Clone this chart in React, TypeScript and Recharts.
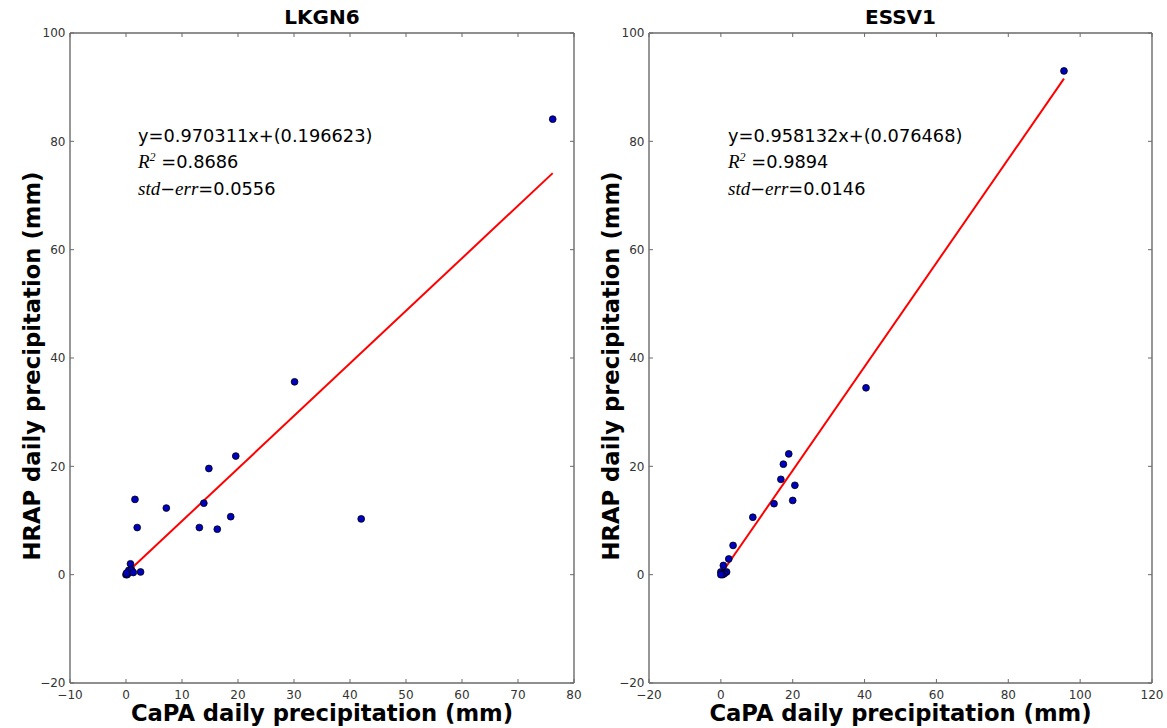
import React from 'react';
import { ScatterChart, Scatter, XAxis, YAxis, ZAxis } from 'recharts';

// ---- data ----
const lkgn6Capa = [76.2, 30.1, 42.0, 19.6, 14.8, 7.2, 1.6, 2.0, 13.9, 13.1, 16.3, 18.7, 0.8, 2.6, 0.3, 0.0, 0.5, 1.0, 0.2, 0.1, 1.3];
const lkgn6Hrap = [84.1, 35.6, 10.3, 21.9, 19.6, 12.3, 13.9, 8.7, 13.2, 8.7, 8.4, 10.7, 2.0, 0.5, 0.2, 0.0, 0.8, 0.9, 0.0, 0.3, 0.4];
const essv1Capa = [95.5, 40.4, 18.9, 17.4, 16.7, 20.6, 20.0, 14.8, 8.9, 3.4, 2.2, 0.7, 1.6, 0.0, 0.3, 1.0, 0.5, 0.0];
const essv1Hrap = [93.0, 34.5, 22.3, 20.4, 17.6, 16.5, 13.7, 13.1, 10.6, 5.4, 2.9, 1.7, 0.5, 0.5, 0.1, 0.2, 0.0, 0.0];

const lkgn6Fit = { slope: 0.970311, intercept: 0.196623, r2: '0.8686', stderr: '0.0556' };
const essv1Fit = { slope: 0.958132, intercept: 0.076468, r2: '0.9894', stderr: '0.0146' };

const lkgn6XTicks = [-10, 0, 10, 20, 30, 40, 50, 60, 70, 80];
const essv1XTicks = [-20, 0, 20, 40, 60, 80, 100, 120];
const yTicks = [-20, 0, 20, 40, 60, 80, 100];

const titles = ['LKGN6', 'ESSV1'];
const xLabel = 'CaPA daily precipitation (mm)';
const yLabel = 'HRAP daily precipitation (mm)';

// ---- styling ----
const SPINE = '#6a6a6a';
const TICK_TXT = '#333';
const FONT = '"DejaVu Sans", sans-serif';
const TICK_LEN = 4;
const MARGIN_X = 6;
const MARGIN_Y = 4;

const fmt = (v: number) => (v < 0 ? '\u2212' + Math.abs(v) : String(v));

const BottomTick = (p: any) => {
  const { x, y, payload } = p;
  const base = y - MARGIN_X;
  return (
    <g>
      <line x1={x} x2={x} y1={base} y2={base - TICK_LEN} stroke={SPINE} strokeWidth={1} />
      <text x={x} y={y} dy="0.85em" textAnchor="middle" fontSize={12} fontFamily={FONT} fill={TICK_TXT}>
        {fmt(payload.value)}
      </text>
    </g>
  );
};
const TopTick = (p: any) => {
  const { x, y } = p;
  return <line x1={x} x2={x} y1={y} y2={y + TICK_LEN} stroke={SPINE} strokeWidth={1} />;
};
const LeftTick = (p: any) => {
  const { x, y, payload } = p;
  const base = x + MARGIN_Y;
  return (
    <g>
      <line x1={base} x2={base + TICK_LEN} y1={y} y2={y} stroke={SPINE} strokeWidth={1} />
      <text x={x - 0.5} y={y} dy="0.35em" textAnchor="end" fontSize={12} fontFamily={FONT} fill={TICK_TXT}>
        {fmt(payload.value)}
      </text>
    </g>
  );
};
const RightTick = (p: any) => {
  const { x, y } = p;
  return <line x1={x} x2={x - TICK_LEN} y1={y} y2={y} stroke={SPINE} strokeWidth={1} />;
};

const Dot = (p: any) => {
  const { cx, cy } = p;
  if (cx == null || cy == null) return <g />;
  return <circle cx={cx} cy={cy} r={3.4} fill="#0000c0" stroke="#000" strokeWidth={0.8} />;
};
const NoShape = () => <g />;

type PanelProps = {
  left: number;
  width: number;
  margin: { top: number; right: number; bottom: number; left: number };
  yAxisWidth: number;
  xs: number[];
  ys: number[];
  fit: { slope: number; intercept: number; r2: string; stderr: string };
  xTicks: number[];
  title: string;
  plotLeft: number;
  plotRight: number;
  annX: number;
};

const Panel = (props: PanelProps) => {
  const { left, width, margin, yAxisWidth, xs, ys, fit, xTicks, title, plotLeft, plotRight, annX } = props;
  const points = xs.map((x, i) => ({ x, y: ys[i] }));
  const xmin = Math.min(...xs);
  const xmax = Math.max(...xs);
  const fitLine = [xmin, xmax].map((x) => ({ x, y: fit.slope * x + fit.intercept }));
  const xDomain = [xTicks[0], xTicks[xTicks.length - 1]];
  const center = (plotLeft + plotRight) / 2;
  const eq = `y=${fit.slope.toFixed(6)}x+(${fit.intercept.toFixed(6)})`;
  const annStyle: React.CSSProperties = {
    position: 'absolute',
    left: annX,
    fontFamily: FONT,
    fontSize: 17.8,
    color: '#000',
    whiteSpace: 'nowrap',
    lineHeight: '20px',
  };
  const mathStyle: React.CSSProperties = { fontFamily: '"Liberation Serif", serif', fontStyle: 'italic', fontSize: 19 };
  return (
    <>
      <div style={{ position: 'absolute', left, top: 0 }}>
        <ScatterChart width={width} height={728} margin={margin}>
          <XAxis
            xAxisId={0}
            type="number"
            dataKey="x"
            domain={xDomain}
            ticks={xTicks}
            interval={0}
            allowDataOverflow
            height={25}
            tickSize={0}
            tickMargin={MARGIN_X}
            tickLine={false}
            tick={<BottomTick />}
            axisLine={{ stroke: SPINE, strokeWidth: 1.4 }}
          />
          <XAxis
            xAxisId="top"
            orientation="top"
            type="number"
            dataKey="x"
            domain={xDomain}
            ticks={xTicks}
            interval={0}
            allowDataOverflow
            height={1}
            tickSize={0}
            tickMargin={0}
            tickLine={false}
            tick={<TopTick />}
            axisLine={{ stroke: SPINE, strokeWidth: 1.4 }}
          />
          <YAxis
            yAxisId={0}
            type="number"
            dataKey="y"
            domain={[-20, 100]}
            ticks={yTicks}
            interval={0}
            allowDataOverflow
            width={yAxisWidth}
            tickSize={0}
            tickMargin={MARGIN_Y}
            tickLine={false}
            tick={<LeftTick />}
            axisLine={{ stroke: SPINE, strokeWidth: 1.4 }}
          />
          <YAxis
            yAxisId="right"
            orientation="right"
            type="number"
            dataKey="y"
            domain={[-20, 100]}
            ticks={yTicks}
            interval={0}
            allowDataOverflow
            width={1}
            tickSize={0}
            tickMargin={0}
            tickLine={false}
            tick={<RightTick />}
            axisLine={{ stroke: SPINE, strokeWidth: 1.4 }}
          />
          <ZAxis range={[40, 40]} />
          <Scatter
            xAxisId="top"
            yAxisId="right"
            data={fitLine}
            line={{ stroke: '#ff0000', strokeWidth: 2 }}
            shape={<NoShape />}
            isAnimationActive={false}
          />
          <Scatter data={points} shape={<Dot />} isAnimationActive={false} />
        </ScatterChart>
      </div>
      <div
        style={{
          position: 'absolute',
          left: center - 150,
          width: 300,
          top: 5,
          textAlign: 'center',
          fontFamily: FONT,
          fontWeight: 'bold',
          fontSize: 20,
          lineHeight: '24px',
        }}
      >
        {title}
      </div>
      <div
        style={{
          position: 'absolute',
          left: center - 250,
          width: 500,
          top: 700,
          textAlign: 'center',
          fontFamily: FONT,
          fontWeight: 'bold',
          fontSize: 22.7,
          lineHeight: '27px',
          whiteSpace: 'nowrap',
        }}
      >
        {xLabel}
      </div>
      <div
        style={{
          position: 'absolute',
          left: plotLeft - 38 - 250,
          top: 366 - 13,
          width: 500,
          height: 26,
          textAlign: 'center',
          fontFamily: FONT,
          fontWeight: 'bold',
          fontSize: 22.7,
          lineHeight: '26px',
          transform: 'rotate(-90deg)',
          whiteSpace: 'nowrap',
        }}
      >
        {yLabel}
      </div>
      <div style={{ ...annStyle, top: 126 }}>{eq}</div>
      <div style={{ ...annStyle, top: 152 }}>
        <span style={mathStyle}>R</span>
        <sup style={{ ...mathStyle, fontSize: 12, verticalAlign: '7px', lineHeight: 0 }}>2</sup> ={fit.r2}
      </div>
      <div style={{ ...annStyle, top: 179 }}>
        <span style={mathStyle}>std</span>
        <span>{'\u2212'}</span>
        <span style={mathStyle}>err</span>={fit.stderr}
      </div>
    </>
  );
};

export default function App() {
  return (
    <div style={{ position: 'absolute', left: 0, top: 0, width: 1167, height: 728, background: '#fff', overflow: 'hidden' }}>
      <Panel
        left={0}
        width={583}
        margin={{ top: 32, right: 8, bottom: 20, left: 10 }}
        yAxisWidth={60}
        xs={lkgn6Capa}
        ys={lkgn6Hrap}
        fit={lkgn6Fit}
        xTicks={lkgn6XTicks}
        title={titles[0]}
        plotLeft={70}
        plotRight={574}
        annX={138}
      />
      <Panel
        left={583}
        width={584}
        margin={{ top: 32, right: 14, bottom: 20, left: 10 }}
        yAxisWidth={56}
        xs={essv1Capa}
        ys={essv1Hrap}
        fit={essv1Fit}
        xTicks={essv1XTicks}
        title={titles[1]}
        plotLeft={649}
        plotRight={1152}
        annX={728}
      />
    </div>
  );
}
